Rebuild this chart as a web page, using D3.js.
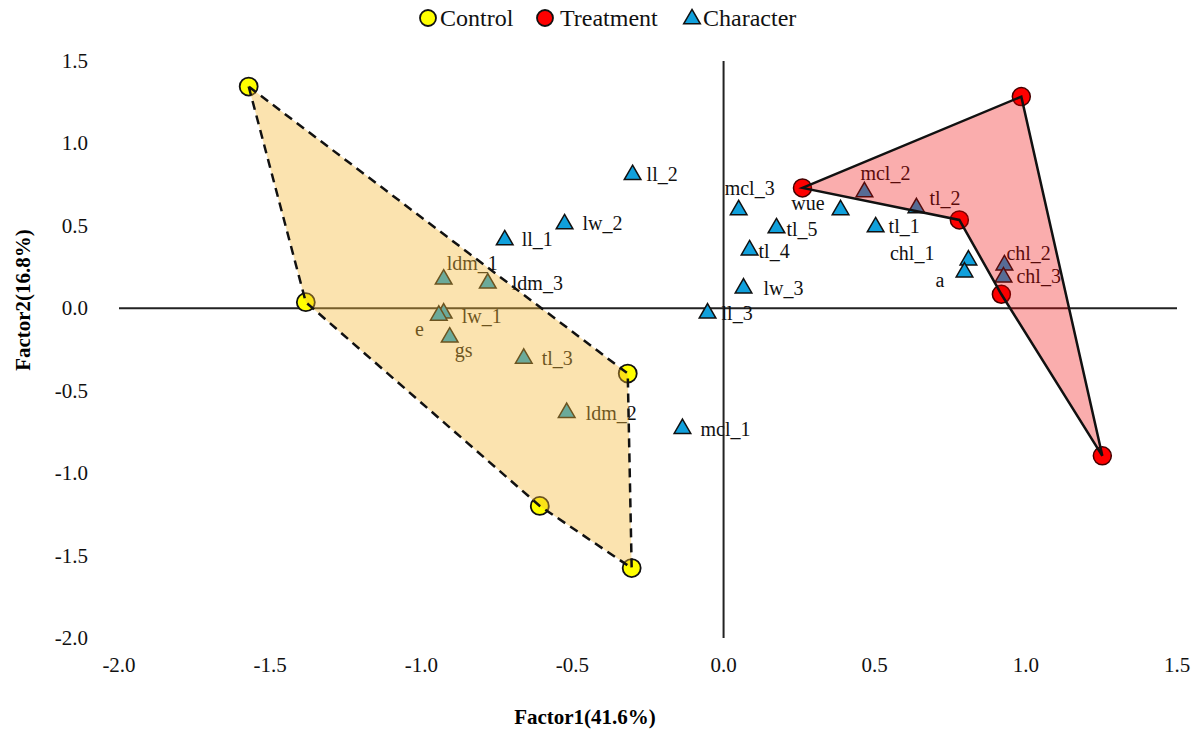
<!DOCTYPE html>
<html>
<head>
<meta charset="utf-8">
<script src="https://cdn.jsdelivr.net/npm/d3@7"></script>
<style>
  html, body { margin: 0; padding: 0; background: #fff; }
  svg { display: block; }
  text { font-family: "Liberation Serif", "Times New Roman", serif; }
</style>
</head>
<body>
<svg id="chart" width="1200" height="734"></svg>
<script>
// Factor scores of the control samples
const controlX = [-1.571, -1.382, -0.608, -0.304, -0.317];
const controlY = [1.345, 0.037, -1.199, -1.576, -0.396];

// Factor scores of the treatment samples
const treatmentX = [0.261, 0.985, 1.253, 0.919, 0.780];
const treatmentY = [0.730, 1.284, -0.895, 0.085, 0.536];

// Character loadings
const characterNames = ["ll_2", "lw_2", "ll_1", "ldm_1", "ldm_3", "lw_1", "e", "gs", "tl_3", "ldm_2",
  "mcl_1", "ll_3", "lw_3", "tl_4", "mcl_3", "tl_5", "wue", "mcl_2", "tl_2", "tl_1",
  "chl_1", "a", "chl_2", "chl_3"];
const characterX = [-0.301, -0.526, -0.724, -0.926, -0.780, -0.926, -0.942, -0.906, -0.661, -0.519,
  -0.136, -0.053, 0.066, 0.086, 0.050, 0.175, 0.387, 0.466, 0.638, 0.503,
  0.810, 0.797, 0.929, 0.926];
const characterY = [0.810, 0.511, 0.414, 0.176, 0.152, -0.030, -0.043, -0.176, -0.304, -0.633,
  -0.730, -0.030, 0.122, 0.353, 0.597, 0.487, 0.597, 0.706, 0.609, 0.493,
  0.292, 0.219, 0.262, 0.189];

const xTicks = [-2.0, -1.5, -1.0, -0.5, 0.0, 0.5, 1.0, 1.5];
const yTicks = [-2.0, -1.5, -1.0, -0.5, 0.0, 0.5, 1.0, 1.5];
const legendItems = ["Control", "Treatment", "Character"];

// Where each character label sits around its marker
const labelOffset = {
  ll_2: [14, 6, "start"], lw_2: [18, 6, "start"], ll_1: [17, 6, "start"],
  ldm_1: [3, -9, "start"], ldm_3: [24, 7, "start"], lw_1: [18, 10, "start"],
  e: [-15, 21, "end"], gs: [5, 20, "start"], tl_3: [18, 7, "start"],
  ldm_2: [19, 7, "start"], mcl_1: [18, 7, "start"], ll_3: [14, 7, "start"],
  lw_3: [20, 7, "start"], tl_4: [9, 8, "start"], mcl_3: [-14, -15, "start"],
  tl_5: [10, 8, "start"], wue: [-16, 0, "end"], mcl_2: [-4, -12, "start"],
  tl_2: [13, -3, "start"], tl_1: [13, 6, "start"], chl_1: [-34, 0, "end"],
  a: [-20, 15, "end"], chl_2: [2, -5, "start"], chl_3: [13, 6, "start"]
};

const svg = d3.select("#chart");
const x = d3.scaleLinear().domain([-2, 1.5]).range([119, 1177]);
const y = d3.scaleLinear().domain([-2, 1.5]).range([638, 61]);

const controlPts = controlX.map((v, i) => [v, controlY[i]]);
const treatmentPts = treatmentX.map((v, i) => [v, treatmentY[i]]);
const characters = characterNames.map((n, i) => ({ name: n, x: characterX[i], y: characterY[i] }));

// Tick labels
svg.append("g").selectAll("text").data(xTicks).join("text")
  .attr("x", d => x(d)).attr("y", 672)
  .attr("text-anchor", "middle").attr("font-size", 21).attr("fill", "#111")
  .text(d => d.toFixed(1));
svg.append("g").selectAll("text").data(yTicks).join("text")
  .attr("x", 88).attr("y", d => y(d) + 7)
  .attr("text-anchor", "end").attr("font-size", 21).attr("fill", "#111")
  .text(d => d.toFixed(1));

// Axis titles
svg.append("text").attr("x", 585).attr("y", 724)
  .attr("text-anchor", "middle").attr("font-size", 21).attr("font-weight", "bold")
  .text("Factor1(41.6%)");
svg.append("text").attr("transform", "translate(30,300) rotate(-90)")
  .attr("text-anchor", "middle").attr("font-size", 21).attr("font-weight", "bold")
  .text("Factor2(16.8%)");

// Axes through the origin
svg.append("line").attr("x1", x(-2)).attr("x2", x(1.5)).attr("y1", y(0)).attr("y2", y(0))
  .attr("stroke", "#222").attr("stroke-width", 2);
svg.append("line").attr("x1", x(0)).attr("x2", x(0)).attr("y1", y(1.5)).attr("y2", y(-2))
  .attr("stroke", "#222").attr("stroke-width", 2);

// Character markers and labels
const tri = d3.symbol().type(d3.symbolTriangle).size(120);
const cg = svg.append("g");
cg.selectAll("path").data(characters).join("path")
  .attr("transform", d => `translate(${x(d.x)},${y(d.y)})`)
  .attr("d", tri).attr("fill", "#10A0DC").attr("stroke", "#111").attr("stroke-width", 1.5);
cg.selectAll("text").data(characters).join("text")
  .attr("x", d => x(d.x) + labelOffset[d.name][0])
  .attr("y", d => y(d.y) + labelOffset[d.name][1])
  .attr("text-anchor", d => labelOffset[d.name][2])
  .attr("font-size", 20).attr("fill", "#111")
  .text(d => d.name);

// Sample markers
svg.append("g").selectAll("circle").data(controlPts).join("circle")
  .attr("cx", d => x(d[0])).attr("cy", d => y(d[1])).attr("r", 9)
  .attr("fill", "#FFFF00").attr("stroke", "#111").attr("stroke-width", 1.8);
svg.append("g").selectAll("circle").data(treatmentPts).join("circle")
  .attr("cx", d => x(d[0])).attr("cy", d => y(d[1])).attr("r", 9)
  .attr("fill", "#FF0000").attr("stroke", "#400").attr("stroke-width", 1.5);

// Group hulls drawn over the markers
const hull = d3.line().x(d => x(d[0])).y(d => y(d[1])).curve(d3.curveLinearClosed);
svg.append("path").attr("d", hull(controlPts))
  .attr("fill", "rgba(245,185,55,0.4)").attr("stroke", "#111")
  .attr("stroke-width", 2.5).attr("stroke-dasharray", "9,6");
svg.append("path").attr("d", hull(treatmentPts))
  .attr("fill", "rgba(240,0,0,0.32)").attr("stroke", "#111")
  .attr("stroke-width", 2.5);

// Legend
const lg = svg.append("g");
const legendPos = [[428, 440], [545, 560], [692, 703]];
legendItems.forEach((name, i) => {
  const [mx, tx] = legendPos[i];
  if (i === 0) lg.append("circle").attr("cx", mx).attr("cy", 18).attr("r", 8)
    .attr("fill", "#FFFF00").attr("stroke", "#111").attr("stroke-width", 1.8);
  if (i === 1) lg.append("circle").attr("cx", mx).attr("cy", 18).attr("r", 8)
    .attr("fill", "#FF0000").attr("stroke", "#111").attr("stroke-width", 1.8);
  if (i === 2) lg.append("path").attr("transform", `translate(${mx},19)`)
    .attr("d", tri).attr("fill", "#10A0DC").attr("stroke", "#111").attr("stroke-width", 1.5);
  lg.append("text").attr("x", tx).attr("y", 26).attr("font-size", 24).attr("fill", "#111").text(name);
});
</script>
</body>
</html>
